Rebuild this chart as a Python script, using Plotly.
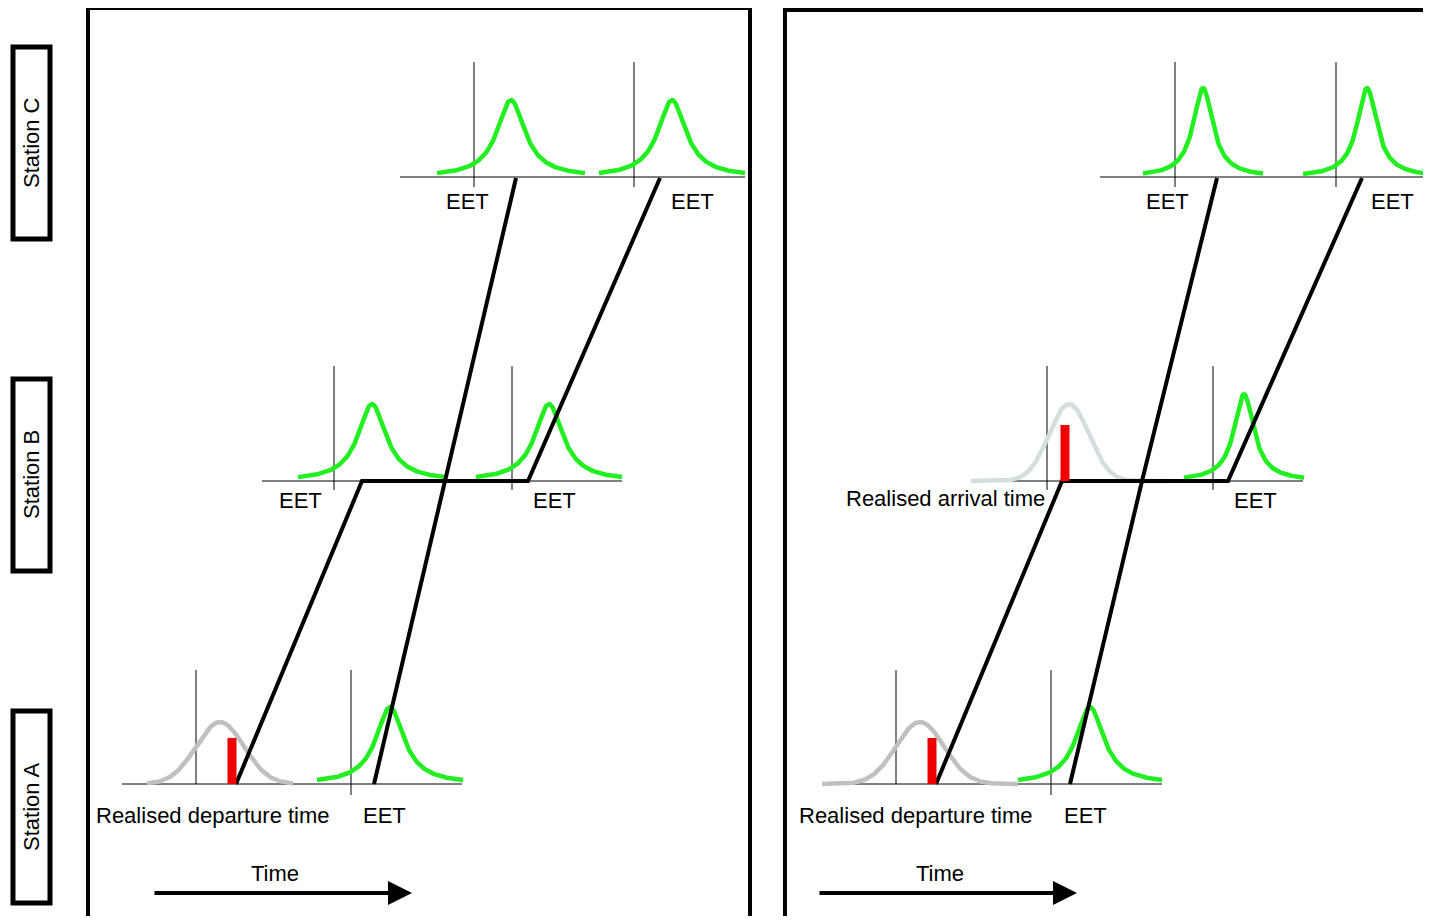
import numpy as np
import plotly.graph_objects as go

W, H = 1431, 924
# Curves: (centre x, baseline y, height, half-width, colour, shape)
curves = [
    (220, 784, 62, 24, "#c0c0c0", "g"), (390, 784, 77, 17, "#22ee22", "l"),
    (372, 481, 77, 17, "#22ee22", "l"), (549, 481, 77, 17, "#22ee22", "l"),
    (511, 177, 77, 17, "#22ee22", "l"), (672, 177, 77, 17, "#22ee22", "l"),
    (920, 784, 62, 24, "#c0c0c0", "g"), (1090, 784, 77, 17, "#22ee22", "l"),
    (1069, 481, 77, 20, "#d4dede", "g"), (1244, 481, 87, 12, "#22ee22", "l"),
    (1203, 177, 89, 12, "#22ee22", "l"), (1367, 177, 89, 12, "#22ee22", "l"),
]
curve_span = [73, 73, 74, 73, 74, 73, 98, 72, 98, 60, 60, 64]
ticks = [(196, 670, 784), (351, 670, 795), (334, 366, 490), (512, 366, 490),
         (474, 62, 187), (634, 62, 187), (896, 670, 784), (1051, 670, 795),
         (1047, 366, 490), (1213, 366, 490), (1175, 62, 187), (1336, 62, 187)]
baselines = [(122, 462, 784), (262, 622, 481), (400, 745, 177),
             (822, 1162, 784), (972, 1303, 481), (1100, 1431, 177)]
trains = [[(236, 784), (362, 481), (528, 481), (660, 178)],
          [(374, 784), (445, 481), (516, 178)],
          [(936, 784), (1062, 481), (1228, 481), (1362, 178)],
          [(1070, 784), (1142, 481), (1217, 178)]]
red_bars = [(232, 738, 784), (932, 738, 784), (1065, 425, 481)]
labels = [("Realised departure time", 213, 815), ("EET", 384, 815),
          ("EET", 300, 500), ("EET", 554, 500), ("EET", 467, 201), ("EET", 692, 201),
          ("Time", 275, 873),
          ("Realised departure time", 916, 815), ("EET", 1085, 815),
          ("Realised arrival time", 945, 498), ("EET", 1255, 500),
          ("EET", 1167, 201), ("EET", 1392, 201), ("Time", 940, 873)]
stations = [("Station C", 143), ("Station B", 475), ("Station A", 807)]

FONT = dict(size=22, color="black", family="Liberation Sans")
fig = go.Figure()
def line(xs, ys, color="black", width=3):
    fig.add_trace(go.Scatter(x=xs, y=ys, mode="lines", line=dict(color=color, width=width),
                             hoverinfo="skip", showlegend=False))

for x0, x1, y in baselines:
    line([x0, x1], [y, y], "black", 1)
for x, y0, y1 in ticks:
    line([x, x], [y0, y1], "black", 1)
for (c, b, h, w, col, s), sp in zip(curves, curve_span):
    xs = np.linspace(c - sp, c + sp, 200)
    if s == "g":
        ys = b - h * np.exp(-0.5 * ((xs - c) / w) ** 2)
    else:
        ys = b - h / (1 + ((xs - c) / w) ** 2)
    line(xs, ys, col, 4.5)
for t in trains:
    line([p[0] for p in t], [p[1] for p in t], "black", 4)
for x, y0, y1 in red_bars:
    line([x, x], [y0, y1], "#ee0000", 9)

shapes = [
    dict(type="rect", x0=88, x1=750, y0=8, y1=930, line=dict(color="black", width=4)),
    dict(type="rect", x0=785, x1=1440, y0=10, y1=930, line=dict(color="black", width=4)),
]
for name, yc in stations:
    shapes.append(dict(type="rect", x0=13, x1=50, y0=yc - 96, y1=yc + 96,
                       line=dict(color="black", width=5)))
    fig.add_annotation(x=31, y=yc, text=name, textangle=-90, showarrow=False, font=FONT)
fig.update_layout(shapes=shapes)
for txt, x, y in labels:
    fig.add_annotation(x=x, y=y, text=txt, showarrow=False, font=FONT)
for x0, x1 in [(153, 412), (818, 1077)]:
    fig.add_annotation(x=x1, y=893, ax=x0, ay=893, xref="x", yref="y", axref="x", ayref="y",
                       text="", showarrow=True, arrowhead=2, arrowsize=1.2, arrowwidth=4,
                       arrowcolor="black")
# top arrow fragments
line([385, 425], [8, 0], "black", 4)
line([1085, 1112], [0, 8], "black", 4)

OFF = 8
fig.update_layout(width=W - 2 * OFF, height=H - 2 * OFF, margin=dict(l=0, r=0, t=0, b=0),
                  plot_bgcolor="white", paper_bgcolor="white",
                  xaxis=dict(range=[OFF, W - OFF], visible=False, fixedrange=True),
                  yaxis=dict(range=[H - OFF, OFF], visible=False, fixedrange=True))
fig.write_html("out.html", config={"displayModeBar": False})
